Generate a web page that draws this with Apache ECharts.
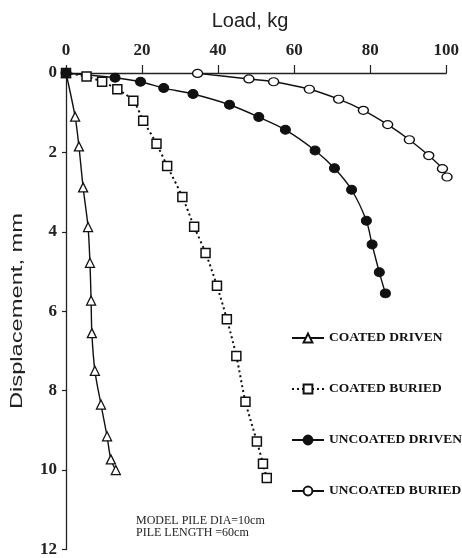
<!DOCTYPE html>
<html>
<head>
<meta charset="utf-8">
<script src="https://cdn.jsdelivr.net/npm/echarts@6/dist/echarts.min.js"></script>
<style>html,body{margin:0;padding:0;background:#fff}#c{width:462px;height:558px}</style>
</head>
<body>
<div id="c"></div>
<script>
var seriesNames = ['COATED DRIVEN', 'COATED BURIED', 'UNCOATED DRIVEN', 'UNCOATED BURIED'];
var xTicks = [0, 20, 40, 60, 80, 100];
var yTicks = [0, 2, 4, 6, 8, 10, 12];

var coatedDrivenLoad = [0, 2.4, 3.4, 4.5, 5.8, 6.3, 6.6, 6.8, 7.6, 9.2, 10.8, 11.8, 13.1];
var coatedDrivenDisp = [0, 1.10, 1.85, 2.88, 3.88, 4.78, 5.73, 6.55, 7.50, 8.35, 9.15, 9.73, 10.0];

var coatedBuriedLoad = [0, 5.4, 9.5, 13.5, 17.7, 20.3, 23.8, 26.6, 30.6, 33.7, 36.7, 39.7, 42.3, 44.8, 47.2, 50.2, 51.8, 52.8];
var coatedBuriedDisp = [0, 0.09, 0.22, 0.41, 0.70, 1.20, 1.78, 2.34, 3.12, 3.87, 4.53, 5.36, 6.20, 7.13, 8.28, 9.28, 9.84, 10.2];

var uncoatedDrivenLoad = [0, 12.9, 19.6, 25.7, 33.4, 43.0, 50.7, 57.7, 65.5, 70.6, 75.1, 79.0, 80.5, 82.4, 84.0];
var uncoatedDrivenDisp = [0, 0.12, 0.22, 0.38, 0.53, 0.80, 1.11, 1.43, 1.95, 2.40, 2.94, 3.72, 4.32, 5.02, 5.55];

var uncoatedBuriedLoad = [34.6, 48.1, 54.6, 64.0, 71.7, 78.2, 84.6, 90.3, 95.4, 99.0, 100.2];
var uncoatedBuriedDisp = [0.01, 0.15, 0.22, 0.41, 0.66, 0.94, 1.30, 1.68, 2.08, 2.41, 2.62];

function pairs(xs, ys) { return xs.map(function (x, i) { return [x, ys[i]]; }); }

var serif = '"Liberation Serif", "Times New Roman", serif';
var sans = '"Liberation Sans", Arial, sans-serif';

var chart = echarts.init(document.getElementById('c'), null, { renderer: 'canvas' });
var base = { type: 'line', smooth: 0.3, clip: false, symbolSize: 9,
  lineStyle: { color: '#111', width: 1.4 } };

chart.setOption({
  animation: false,
  backgroundColor: '#fff',
  grid: { left: 66, right: 15, top: 73, bottom: 5, containLabel: false },
  xAxis: {
    type: 'value', position: 'top', min: xTicks[0], max: xTicks[xTicks.length - 1], interval: 20,
    axisLine: { lineStyle: { color: '#222', width: 1.3 } },
    axisTick: { show: true, inside: false, length: 8, lineStyle: { color: '#222', width: 1.2 } },
    axisLabel: { margin: 14, fontFamily: serif, fontSize: 17, fontWeight: 'bold', color: '#222' },
    splitLine: { show: false }
  },
  yAxis: {
    type: 'value', inverse: true, min: yTicks[0], max: yTicks[yTicks.length - 1], interval: 2,
    axisLine: { show: true, lineStyle: { color: '#222', width: 1.3 } },
    axisTick: { show: true, inside: false, length: 4, lineStyle: { color: '#222', width: 1.2 } },
    axisLabel: { margin: 9, fontFamily: serif, fontSize: 17, fontWeight: 'bold', color: '#222' },
    splitLine: { show: false }
  },
  legend: {
    orient: 'vertical', left: 286, top: 326, itemGap: 37, itemWidth: 32, itemHeight: 11,
    data: seriesNames,
    textStyle: { fontFamily: serif, fontSize: 13.5, fontWeight: 'bold', color: '#111' }
  },
  graphic: [
    { type: 'text', x: 18, y: 311, rotation: Math.PI / 2, scaleX: 1.48,
      style: { text: 'Displacement, mm', font: '16px ' + sans, fill: '#222', align: 'center', verticalAlign: 'middle' } },
    { type: 'text', x: 250, y: 21,
      style: { text: 'Load, kg', font: '20px ' + sans, fill: '#222', align: 'center', verticalAlign: 'middle' } },
    { type: 'text', left: 136, top: 515,
      style: { text: 'MODEL PILE DIA=10cm\nPILE LENGTH =60cm', font: '12px ' + serif, fill: '#222', lineHeight: 12 } }
  ],
  series: [
    Object.assign({}, base, { name: seriesNames[0], symbol: 'triangle',
      itemStyle: { color: '#fff', borderColor: '#111', borderWidth: 1.3 },
      data: pairs(coatedDrivenLoad, coatedDrivenDisp) }),
    Object.assign({}, base, { name: seriesNames[1], symbol: 'rect', symbolSize: 9,
      lineStyle: { color: '#111', width: 2, type: [2, 3] },
      itemStyle: { color: '#fff', borderColor: '#111', borderWidth: 1.5 },
      data: pairs(coatedBuriedLoad, coatedBuriedDisp) }),
    Object.assign({}, base, { name: seriesNames[3], symbol: 'circle', symbolSize: [10, 8],
      itemStyle: { color: '#fff', borderColor: '#111', borderWidth: 1.3 },
      data: pairs(uncoatedBuriedLoad, uncoatedBuriedDisp) }),
    Object.assign({}, base, { name: seriesNames[2], symbol: 'circle', symbolSize: [10, 9],
      itemStyle: { color: '#111', borderColor: '#111', borderWidth: 1 },
      data: pairs(uncoatedDrivenLoad, uncoatedDrivenDisp) })
  ]
});
</script>
</body>
</html>
